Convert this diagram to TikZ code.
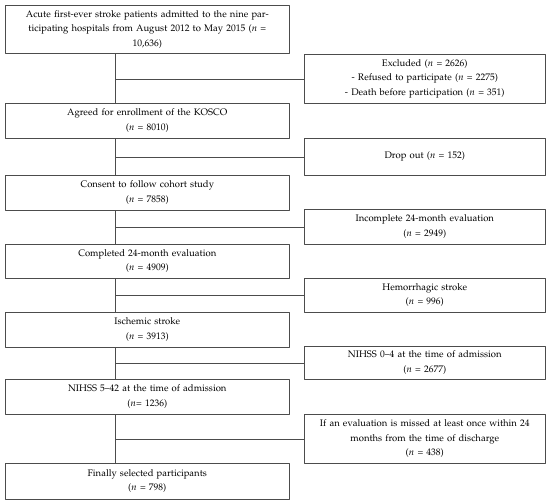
\documentclass[tikz,border=0pt]{standalone}
\usepackage[T1]{fontenc}
\usepackage{mathpazo}
\begin{document}
\begin{tikzpicture}[x=1pt, y=-1pt, font=\fontsize{9.5}{14.5}\selectfont, line join=round]
	\tikzset{box/.style={draw=black!70, line width=0.6pt, fill=white, align=center, anchor=north west, inner sep=2pt},
		leftbox/.style={box, minimum width=284pt, text width=278pt},
		rightbox/.style={box, minimum width=241pt, text width=235pt},
		link/.style={draw=black!70, line width=0.6pt}}
	\useasboundingbox (0,0) rectangle (550,504);
	\coordinate (spine) at (115,0);
	% main column
	\node[leftbox, minimum height=48pt] (start) at (5,5) {Acute first-ever stroke patients admitted to the nine par-\\ticipating hospitals from August 2012 to May 2015 ($n$ =\\10,636)};
	\node[leftbox, minimum height=35pt] (agreed) at (5,103) {Agreed for enrollment of the KOSCO\\($n$ = 8010)};
	\node[leftbox, minimum height=35pt] (consent) at (5,175) {Consent to follow cohort study\\($n$ = 7858)};
	\node[leftbox, minimum height=34pt] (completed) at (5,244) {Completed 24-month evaluation\\($n$ = 4909)};
	\node[leftbox, minimum height=35pt] (ischemic) at (5,312) {Ischemic stroke\\($n$ = 3913)};
	\node[leftbox, minimum height=35pt] (severe) at (5,379) {NIHSS 5--42 at the time of admission\\($n$= 1236)};
	\node[leftbox, minimum height=36pt] (final) at (5,463) {Finally selected participants\\($n$ = 798)};
	% excluded column
	\node[rightbox, minimum height=49pt] (excluded) at (304,54) {Excluded ($n$ = 2626)\\- Refused to participate ($n$ = 2275)\\- Death before participation ($n$ = 351)};
	\node[rightbox, minimum height=37pt] (dropout) at (304,138) {Drop out ($n$ = 152)};
	\node[rightbox, minimum height=35pt] (incomplete) at (304,209) {Incomplete 24-month evaluation\\($n$ = 2949)};
	\node[rightbox, minimum height=34pt] (hemorrhagic) at (304,278) {Hemorrhagic stroke\\($n$ = 996)};
	\node[rightbox, minimum height=33pt] (mild) at (304,346) {NIHSS 0--4 at the time of admission\\($n$ = 2677)};
	\node[rightbox, minimum height=49pt] (missed) at (304,414) {If an evaluation is missed at least once within 24\\months from the time of discharge\\($n$ = 438)};
	% connectors
	\foreach \a/\b in {start/agreed, agreed/consent, consent/completed, completed/ischemic, ischemic/severe, severe/final}
		\draw[link] (\a.south -| spine) -- (\b.north -| spine);
	\foreach \r in {excluded, dropout, incomplete, hemorrhagic, mild, missed}
		\draw[link] (\r.west -| spine) -- (\r.west);
\end{tikzpicture}
\end{document}
